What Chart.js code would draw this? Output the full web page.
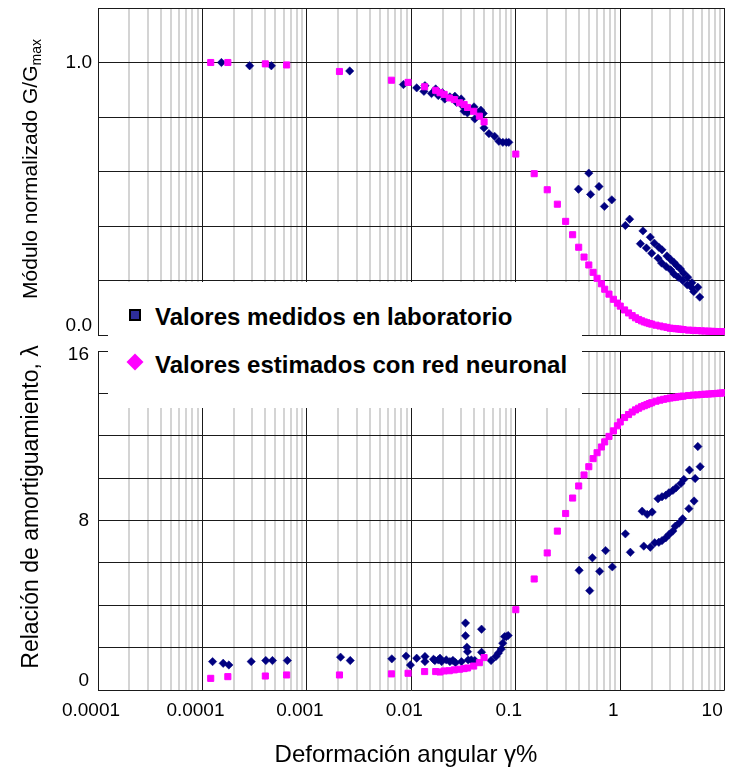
<!DOCTYPE html>
<html>
<head>
<meta charset="utf-8">
<title>G/Gmax y amortiguamiento</title>
<script src="https://cdn.jsdelivr.net/npm/chart.js@4.4.1/dist/chart.umd.min.js"></script>
<style>
  html, body { margin: 0; padding: 0; background: #fff; }
  #wrap { position: relative; width: 730px; height: 770px; overflow: hidden; background: #fff; }
  #wrap canvas { position: absolute; left: 0; }
  #c-top { top: 0; }
  #c-bot { top: 345px; }
  #legend {
    position: absolute; left: 108px; top: 282px; width: 474px; height: 126px; background: #fff;
    font: bold 24px "Liberation Sans", Arial, Helvetica, sans-serif; color: #000;
  }
  .lg-text { position: absolute; left: 47px; line-height: 24px; white-space: nowrap; }
  .lg-sq { position: absolute; left: 21px; top: 27px; width: 8px; height: 8px; border: 2px solid #000; background: #2e2e9a; }
  .lg-dm { position: absolute; left: 21px; top: 74px; width: 12px; height: 12px; background: #ff00ff; transform: rotate(45deg); }
</style>
</head>
<body>
<div id="wrap">
  <canvas id="c-top" width="730" height="345"></canvas>
  <canvas id="c-bot" width="730" height="425"></canvas>
  <div id="legend">
    <div class="lg-sq"></div><div class="lg-text" style="top:23px">Valores medidos en laboratorio</div>
    <div class="lg-dm"></div><div class="lg-text" style="top:71px">Valores estimados con red neuronal</div>
  </div>
</div>
<script>
const NAVY = "#000080";
const PINK = "#ff00ff";
const GRID_MAJOR = "#1a1a1a";
const GRID_MINOR = "#d4d4d4";
const FONT = '"Liberation Sans", Arial, Helvetica, sans-serif';

// x axis: angular strain (%), log decades and the labels printed under them
const X_DECADES = [1e-5, 1e-4, 1e-3, 1e-2, 1e-1, 1, 10];
const X_TICK_LABELS = ["0.0001", "0.0001", "0.001", "0.01", "0.1", "1", "10"];

const G_TICKS = [1.0, 0.0];
const G_TICK_LABELS = ["1.0", "0.0"];
const D_TICKS = [16, 8, 0];
const D_TICK_LABELS = ["16", "8", "0"];

// ---- neural-network estimates (same strains for both panels) ----
const EST_STRAIN = [0.00012, 0.000175, 0.0004, 0.00064, 0.00205, 0.00645, 0.0093, 0.0134, 0.0171, 0.0188,
  0.0206, 0.0231, 0.0258, 0.029, 0.032, 0.0345, 0.0395, 0.0448, 0.0497,
  0.1, 0.15, 0.2, 0.25, 0.3, 0.35, 0.4, 0.45, 0.5, 0.55, 0.6, 0.66, 0.71, 0.78, 0.86, 0.94,
  1.0, 1.1, 1.2, 1.3, 1.4, 1.5, 1.6, 1.7, 1.8, 1.9, 2.0,
  2.2, 2.4, 2.6, 2.8, 3.0, 3.2, 3.4, 3.6, 3.8, 4.0,
  4.5, 5.0, 5.5, 6.0, 6.5, 7.0, 7.5, 8.0, 8.5, 9.0, 9.5, 10];
const EST_G = [1.0, 1.0, 0.995, 0.991, 0.967, 0.935, 0.927, 0.911, 0.898, 0.889,
  0.883, 0.870, 0.864, 0.852, 0.846, 0.835, 0.821, 0.803, 0.782,
  0.664, 0.592, 0.533, 0.480, 0.417, 0.368, 0.322, 0.286, 0.257, 0.230, 0.208, 0.188, 0.168, 0.150, 0.131, 0.117,
  0.106, 0.092, 0.081, 0.071, 0.063, 0.057, 0.052, 0.048, 0.045, 0.042, 0.040,
  0.036, 0.033, 0.030, 0.028, 0.025, 0.024, 0.023, 0.022, 0.021, 0.020,
  0.018, 0.017, 0.016, 0.015, 0.0145, 0.014, 0.0135, 0.013, 0.0125, 0.012, 0.012, 0.0115];
const EST_D = [0.55, 0.63, 0.66, 0.71, 0.71, 0.76, 0.79, 0.87, 0.87, 0.85,
  0.90, 0.91, 0.95, 0.98, 1.01, 1.04, 1.13, 1.29, 1.53,
  3.79, 5.24, 6.47, 7.5, 8.33, 9.06, 9.63, 10.15, 10.54, 10.92, 11.2, 11.47, 11.71, 11.97, 12.23, 12.47,
  12.65, 12.86, 13.0, 13.12, 13.22, 13.3, 13.37, 13.42, 13.47, 13.52, 13.56,
  13.63, 13.68, 13.72, 13.75, 13.78, 13.8, 13.82, 13.84, 13.86, 13.87,
  13.9, 13.92, 13.93, 13.95, 13.96, 13.97, 13.98, 13.99, 14.0, 14.01, 14.02, 14.03];

// ---- laboratory measurements ----
const LAB_G_STRAIN = [0.000152, 0.000283, 0.000457, 0.00257, 0.0084, 0.01125, 0.0132, 0.0135, 0.0156, 0.0171,
  0.0181, 0.0198, 0.0209, 0.0234, 0.0261, 0.027, 0.030, 0.0313, 0.032, 0.0344,
  0.037, 0.0398, 0.0405, 0.0436, 0.0463, 0.0488, 0.0496, 0.0553, 0.0627, 0.0689,
  0.0752, 0.0812, 0.0857, 0.398, 0.50, 0.52, 0.626, 0.705, 0.83, 1.12,
  1.23, 1.56, 1.65, 1.78, 1.94, 2.0, 2.12, 2.30, 2.34, 2.49,
  2.51, 2.75, 2.80, 3.02, 3.04, 3.27, 3.27, 3.49, 3.59, 3.77,
  3.96, 4.04, 4.38, 4.42, 4.81, 4.85, 5.05, 5.53, 5.77];
const LAB_G = [1.0, 0.988, 0.988, 0.969, 0.919, 0.907, 0.894, 0.915, 0.886, 0.903,
  0.879, 0.889, 0.866, 0.874, 0.876, 0.854, 0.866, 0.839, 0.821, 0.815,
  0.827, 0.837, 0.793, 0.817, 0.825, 0.813, 0.760, 0.739, 0.729, 0.711,
  0.707, 0.707, 0.707, 0.535, 0.594, 0.516, 0.545, 0.472, 0.496, 0.402,
  0.425, 0.335, 0.382, 0.319, 0.359, 0.300, 0.337, 0.282, 0.322, 0.264,
  0.3125, 0.251, 0.29, 0.278, 0.239, 0.266, 0.224, 0.254, 0.212, 0.242,
  0.20, 0.227, 0.184, 0.212, 0.175, 0.192, 0.159, 0.175, 0.139];

const LAB_D_STRAIN = [0.000125, 0.000158, 0.000179, 0.000293, 0.000404, 0.000468, 0.00065, 0.0021, 0.0026, 0.0065,
  0.0089, 0.0098, 0.01125, 0.0135, 0.0135, 0.0163, 0.0168, 0.0181, 0.0188, 0.0195,
  0.0216, 0.0234, 0.025, 0.0265, 0.0302, 0.033, 0.033, 0.034, 0.0345, 0.035,
  0.0375, 0.0405, 0.047, 0.047, 0.058, 0.0645, 0.068, 0.0725, 0.075, 0.078,
  0.081, 0.0845, 0.404, 0.51, 0.541, 0.635, 0.724, 0.84, 1.12, 1.25,
  1.62, 1.68, 1.81, 1.94, 2.02, 2.14, 2.30, 2.34, 2.51, 2.51,
  2.73, 2.73, 2.93, 2.93, 3.19, 3.19, 3.36, 3.43, 3.68, 3.81,
  3.96, 4.06, 4.54, 4.6, 5.09, 5.21, 5.53, 5.82];
const LAB_D = [1.34, 1.26, 1.18, 1.34, 1.39, 1.39, 1.39, 1.55, 1.39, 1.47,
  1.6, 1.18, 1.5, 1.58, 1.34, 1.45, 1.39, 1.42, 1.5, 1.34,
  1.42, 1.34, 1.40, 1.29, 1.34, 3.16, 2.56, 2.02, 1.81, 1.42,
  1.42, 1.39, 2.87, 1.78, 1.39, 1.58, 1.74, 1.93, 2.21, 2.52,
  2.52, 2.57, 5.65, 4.69, 6.24, 5.6, 6.58, 5.81, 7.37, 6.5,
  8.44, 6.79, 8.29, 6.74, 8.4, 6.95, 9.03, 6.97, 9.12, 7.05,
  9.19, 7.18, 9.31, 7.34, 9.42, 7.5, 7.73, 9.55, 7.89, 9.75,
  8.08, 9.94, 8.56, 10.38, 8.92, 9.98, 11.49, 10.54];

function points(xs, ys) {
  return xs.map((x, i) => ({ x, y: ys[i] }));
}

function isDecade(v) {
  const l = Math.log10(v);
  return Math.abs(l - Math.round(l)) < 1e-9;
}

// 1..9 x each decade, for the log gridlines
const X_GRID = [];
for (let i = 0; i < X_DECADES.length - 1; i++) {
  for (let k = 1; k <= 9; k++) X_GRID.push(X_DECADES[i] * k);
}
X_GRID.push(X_DECADES[X_DECADES.length - 1]);

function estSet(ys) {
  return {
    label: "Valores estimados con red neuronal",
    data: points(EST_STRAIN, ys),
    pointStyle: "rect",
    pointRadius: 4.3,
    pointBorderWidth: 1,
    backgroundColor: PINK,
    borderColor: PINK,
  };
}

function labSet(xs, ys) {
  return {
    label: "Valores medidos en laboratorio",
    data: points(xs, ys),
    pointStyle: "rectRot",
    pointRadius: 4.2,
    pointBorderWidth: 0.5,
    backgroundColor: NAVY,
    borderColor: NAVY,
  };
}

// Tick labels and rotated axis titles, placed from the chart's own scales.
const panelText = {
  id: "panelText",
  afterDraw(chart, args, opts) {
    const ctx = chart.ctx;
    const { left, right, top, bottom } = chart.chartArea;
    const ys = chart.scales.y;
    const xs = chart.scales.x;
    ctx.save();
    ctx.fillStyle = "#000";

    ctx.font = `19px ${FONT}`;
    ctx.textAlign = "right";
    ctx.textBaseline = "middle";
    opts.yTicks.forEach((v, i) => {
      const py = Math.min(Math.max(ys.getPixelForValue(v), top + 4), bottom - 9);
      ctx.fillText(opts.yLabels[i], opts.yLabelRight, py);
    });

    if (opts.xLabels) {
      ctx.textAlign = "center";
      X_DECADES.forEach((v, i) => {
        const w = ctx.measureText(opts.xLabels[i]).width;
        let cx = xs.getPixelForValue(v) - 7;
        cx = Math.min(cx, right - 2 - w / 2);
        ctx.fillText(opts.xLabels[i], cx, opts.xLabelY);
      });
    }

    if (opts.xTitle) {
      ctx.font = `24px ${FONT}`;
      ctx.textAlign = "center";
      ctx.textBaseline = "alphabetic";
      ctx.fillText(opts.xTitle, opts.xTitleX, opts.xTitleY);
    }

    // rotated y title, built from parts so the subscript can drop
    const t = opts.yTitle;
    ctx.textBaseline = "alphabetic";
    ctx.textAlign = "left";
    let total = 0;
    for (const p of t.parts) {
      ctx.font = `${p.size}px ${FONT}`;
      p.w = ctx.measureText(p.text).width;
      total += p.w;
    }
    ctx.translate(t.x, t.cy);
    ctx.rotate(-Math.PI / 2);
    let pos = -total / 2;
    for (const p of t.parts) {
      ctx.font = `${p.size}px ${FONT}`;
      ctx.fillText(p.text, pos, p.dy || 0);
      pos += p.w;
    }
    ctx.restore();
  },
};

function makeChart(canvasId, cfg) {
  return new Chart(document.getElementById(canvasId), {
    type: "scatter",
    data: { datasets: cfg.datasets },
    options: {
      responsive: false,
      animation: false,
      devicePixelRatio: 1,
      layout: { padding: cfg.padding },
      plugins: {
        legend: { display: false },
        tooltip: { enabled: false },
        panelText: cfg.text,
      },
      scales: {
        x: {
          type: "logarithmic",
          min: X_DECADES[0],
          max: X_DECADES[X_DECADES.length - 1],
          afterBuildTicks: (s) => { s.ticks = X_GRID.map((v) => ({ value: v })); },
          afterFit: (s) => { s.height = 0; s.paddingLeft = 0; s.paddingRight = 0; },
          ticks: { display: false },
          grid: {
            drawTicks: false,
            color: (c) => (c.tick && isDecade(c.tick.value) ? GRID_MAJOR : GRID_MINOR),
            lineWidth: (c) => (c.tick && isDecade(c.tick.value) ? 1 : 2),
          },
          border: { display: false },
        },
        y: {
          min: cfg.yMin,
          max: cfg.yMax,
          ticks: { display: false, stepSize: cfg.yStep },
          afterFit: (s) => { s.width = 0; s.paddingTop = 0; s.paddingBottom = 0; },
          grid: { drawTicks: false, color: GRID_MAJOR, lineWidth: 1 },
          border: { display: true, color: GRID_MAJOR, width: 1 },
        },
      },
    },
    plugins: [panelText],
  });
}

// ---- top panel: normalized shear modulus ----
makeChart("c-top", {
  datasets: [estSet(EST_G), labSet(LAB_G_STRAIN, LAB_G)],
  padding: { left: 98, right: 2, top: 8, bottom: 10 },
  yMin: 0, yMax: 1.2, yStep: 0.2,
  text: {
    yTicks: G_TICKS, yLabels: G_TICK_LABELS, yLabelRight: 92,
    yTitle: {
      x: 37, cy: 169,
      parts: [{ text: "Módulo normalizado G/G", size: 21 }, { text: "max", size: 14, dy: 4 }],
    },
  },
});

// ---- bottom panel: damping ratio ----
makeChart("c-bot", {
  datasets: [estSet(EST_D), labSet(LAB_D_STRAIN, LAB_D)],
  padding: { left: 98, right: 2, top: 6, bottom: 80 },
  yMin: 0, yMax: 16, yStep: 2,
  text: {
    yTicks: D_TICKS, yLabels: D_TICK_LABELS, yLabelRight: 89,
    xLabels: X_TICK_LABELS, xLabelY: 366,
    xTitle: "Deformación angular γ%", xTitleX: 406, xTitleY: 417,
    yTitle: {
      x: 38, cy: 162,
      parts: [{ text: "Relación de amortiguamiento, λ", size: 23 }],
    },
  },
});
</script>
</body>
</html>
